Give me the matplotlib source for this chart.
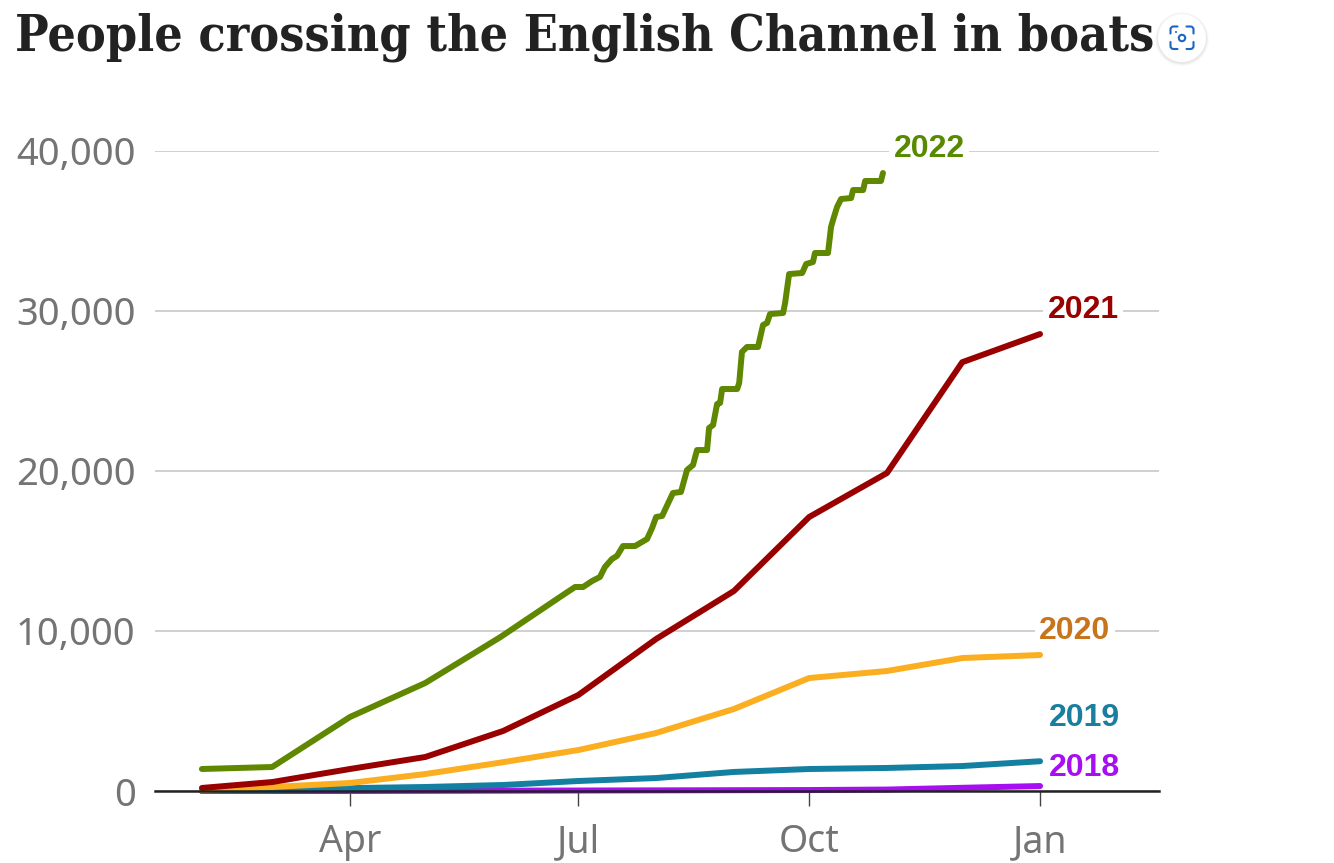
import matplotlib
matplotlib.use("Agg")
import matplotlib.pyplot as plt
from matplotlib.patches import Circle, PathPatch
from matplotlib.path import Path

# day of year for the end of each month (Jan..Dec)
month_days = [31, 59, 90, 120, 151, 181, 212, 243, 273, 304, 334, 365]

vals_2018 = [0, 0, 0, 10, 20, 30, 40, 50, 60, 90, 200, 310]
vals_2019 = [0, 50, 180, 250, 375, 625, 810, 1190, 1375, 1440, 1560, 1860]
vals_2020 = [60, 250, 500, 1060, 1800, 2560, 3625, 5125, 7060, 7500, 8310, 8500]
vals_2021 = [190, 560, 1375, 2125, 3750, 6000, 9500, 12500, 17125, 19875, 26800, 28560]

days_2022 = [31, 59, 90, 120, 150, 173.7, 179.7, 182.9, 186.5, 189.6, 191.6, 194.4, 196.4, 198.8,
             203.6, 208.4, 210.4, 212, 214.4, 218.7, 221.9, 224.3, 226.7, 228.3, 232.3, 233.1,
             234.7, 236.3, 237.5, 238.3, 244.3, 245.1, 246.2, 248.2, 252.6, 254.6, 256.2, 257.4,
             262.6, 263.4, 265, 270.2, 271.8, 274.5, 275.3, 280.5, 281.7, 282.5, 284.1, 285.7,
             289.7, 290.5, 294.5, 295.3, 301.6, 302.4]
vals_2022 = [1375, 1500, 4625, 6750, 9625, 12125, 12750, 12750, 13125, 13375, 14000, 14500, 14690, 15310,
             15310, 15750, 16440, 17125, 17190, 18625, 18690, 20060, 20375, 21310, 21310, 22690,
             22875, 24190, 24250, 25125, 25125, 25500, 27440, 27750, 27750, 29125, 29250, 29810,
             29875, 30500, 32310, 32375, 32940, 33060, 33625, 33625, 35250, 35690, 36500, 37000,
             37060, 37560, 37560, 38125, 38125, 38625]

xtick_days = [90, 181, 273, 365]
xtick_labels = ["Apr", "Jul", "Oct", "Jan"]
ytick_vals = [0, 10000, 20000, 30000, 40000]
ytick_labels = ["0", "10,000", "20,000", "30,000", "40,000"]

W, H = 1334, 863
fig = plt.figure(figsize=(W / 100, H / 100), dpi=100, facecolor="white")
ax = fig.add_axes([155 / W, 1 - 791 / H, (1159 - 155) / W, (791 - 151) / H])

ax.set_xlim(12.3, 412.4)
ax.set_ylim(0, 40000)
ax.set_facecolor("none")
for s in ax.spines.values():
    s.set_visible(False)

ax.grid(axis="y", color="#d0d0d0", lw=1.4, zorder=0)
ax.set_axisbelow(True)

lw = 4.3
ax.plot(month_days, vals_2018, color="#a80ff0", lw=lw, clip_on=False, zorder=3, solid_capstyle="round")
ax.plot(month_days, vals_2019, color="#1380a1", lw=lw, clip_on=False, zorder=4, solid_capstyle="round")
ax.plot(month_days, vals_2020, color="#fbae1f", lw=lw, clip_on=False, zorder=5, solid_capstyle="round")
ax.plot(month_days, vals_2021, color="#990000", lw=lw, clip_on=False, zorder=6, solid_capstyle="round")
ax.plot(days_2022, vals_2022, color="#5f8700", lw=lw, clip_on=False, zorder=7, solid_capstyle="round",
        solid_joinstyle="round")

ax.axhline(0, color="#222222", lw=1.8, zorder=8, clip_on=False)

ax.set_yticks(ytick_vals)
ax.set_yticklabels(ytick_labels, family="Noto Sans", fontsize=27.5, color="#747474")
ax.tick_params(axis="y", length=0, pad=14)
ax.set_xticks(xtick_days)
ax.set_xticklabels(xtick_labels, family="Noto Sans", fontsize=27, color="#747474")
ax.tick_params(axis="x", length=10.5, width=1.0, color="#444444", pad=12.5)

# year labels, white box breaks the gridline behind them
labels = [(2022, 929, 149, "#588a00"), (2021, 1083, 310, "#990000"), (2020, 1075, 631, "#c8741c"),
          (2019, 1084, 718, "#1a7f9e"), (2018, 1084, 768, "#a80ff0")]
for year, px, py, col in labels:
    fig.text(px / W, 1 - py / H, str(year), family="Liberation Sans", weight="bold", fontsize=23,
             color=col, ha="center", va="center", zorder=10,
             bbox=dict(facecolor="white", edgecolor="none", pad=3))

fig.text(15 / W, 1 - 50 / H, "People crossing the English Channel in boats", family="DejaVu Serif",
         stretch="condensed", weight="bold", fontsize=35.9, color="#222222", ha="left", va="baseline")

# overlay in pixel coords for the screenshot button
ov = fig.add_axes([0, 0, 1, 1], zorder=20)
ov.set_xlim(0, W)
ov.set_ylim(H, 0)
ov.axis("off")
for r, a in [(27, 0.02), (26, 0.03), (25, 0.04)]:
    ov.add_patch(Circle((1182, 39), r, fc="#000000", ec="none", alpha=a))
ov.add_patch(Circle((1182, 38), 24, fc="white", ec="none"))
blue = "#1a66c0"
x0, x1, y0, y1 = 1170.5, 1193.5, 26.5, 49
c = 3
for sx, cx, sy, cy in [(1, x0, 1, y0), (-1, x1, 1, y0), (1, x0, -1, y1), (-1, x1, -1, y1)]:
    p = Path([(cx, cy + sy * 7), (cx, cy + sy * c), (cx, cy), (cx + sx * c, cy), (cx + sx * 7, cy)],
             [Path.MOVETO, Path.LINETO, Path.CURVE3, Path.CURVE3, Path.LINETO])
    ov.add_patch(PathPatch(p, fc="none", ec=blue, lw=1.5, capstyle="round"))
ov.add_patch(Circle((1182, 38), 3.2, fc="none", ec=blue, lw=1.5))
ov.add_patch(Circle((1176, 32), 1.0, fc=blue, ec="none"))

fig.savefig("out.png", dpi=100)
